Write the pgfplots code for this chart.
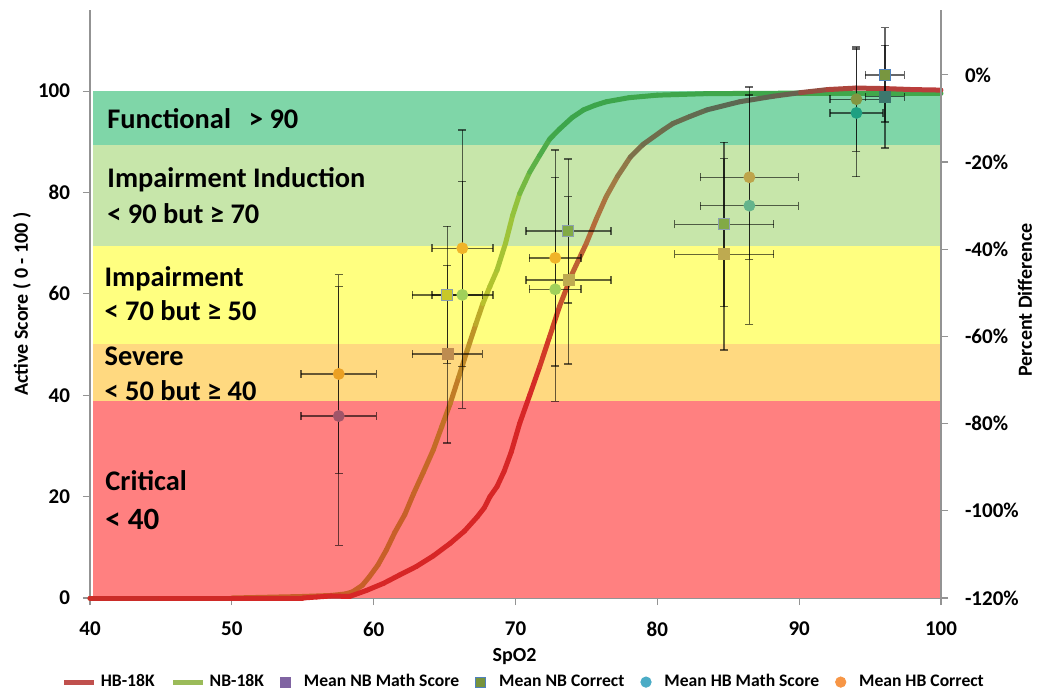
\documentclass[border=0pt]{standalone}
\usepackage{fontspec}
\setmainfont{Carlito}
\usepackage{pgfplots}
\pgfplotsset{compat=1.18}
\definecolor{bandG}{RGB}{127,214,168}
\definecolor{bandLG}{RGB}{199,230,170}
\definecolor{bandY}{RGB}{255,255,128}
\definecolor{bandO}{RGB}{255,217,128}
\definecolor{bandR}{RGB}{255,128,128}
\definecolor{hbline}{RGB}{192,80,77}
\definecolor{nbline}{RGB}{155,187,89}
\definecolor{purp}{RGB}{128,100,162}
\definecolor{nbgreen}{RGB}{119,147,60}
\definecolor{nbblue}{RGB}{79,129,189}
\definecolor{teal}{RGB}{75,172,198}
\definecolor{orng}{RGB}{247,150,70}
% per-point marker colours (as they appear over the bands)
\definecolor{hcA}{RGB}{235,160,35}
\definecolor{hcB}{RGB}{240,180,40}
\definecolor{hcC}{RGB}{190,165,75}
\definecolor{hcD}{RGB}{130,150,64}
\definecolor{hmA}{RGB}{160,85,105}
\definecolor{hmB}{RGB}{160,208,90}
\definecolor{hmC}{RGB}{100,180,140}
\definecolor{hmD}{RGB}{30,160,130}
\definecolor{ncA}{RGB}{200,200,40}
\definecolor{ncB}{RGB}{130,170,70}
\definecolor{ncC}{RGB}{120,150,64}
\definecolor{ncE}{RGB}{140,160,175}
\definecolor{nmA}{RGB}{190,140,80}
\definecolor{nmB}{RGB}{190,170,80}
\definecolor{nmC}{RGB}{60,120,110}
\pgfplotsset{
 colormap={hbmap}{rgb255(40)=(200,45,40) rgb255(57)=(215,38,38) rgb255(71)=(215,38,38) rgb255(73)=(205,75,40) rgb255(75)=(185,105,55) rgb255(77)=(160,125,70) rgb255(79)=(115,110,75) rgb255(85)=(90,105,82) rgb255(89)=(100,100,80) rgb255(92)=(170,70,60) rgb255(100)=(190,60,60)},
 colormap={nbmap}{rgb255(40)=(200,95,40) rgb255(62)=(200,95,40) rgb255(65)=(195,110,38) rgb255(67)=(190,150,40) rgb255(68)=(185,195,45) rgb255(70)=(150,195,60) rgb255(71)=(100,180,70) rgb255(73)=(60,165,75) rgb255(100)=(65,168,75)},
 marklegend/.style={legend image code/.code={\node[draw=none, fill=none, inner sep=0pt, minimum width=10pt, minimum height=1pt, anchor=west] at (0pt,0pt) {}; \draw[##1] plot coordinates {(3pt,0pt)};}},
 linelegend/.style={legend image code/.code={\draw[##1] (0pt,0pt) -- (15pt,0pt);}},
 ebars/.style={error bars/.cd, x dir=both, x explicit, y dir=both, y explicit,
   error bar style={black, opacity=0.6, line width=0.7pt},
   error mark options={rotate=90, black, opacity=0.6, mark size=2pt, line width=0.7pt}},
}
\tikzset{bandlbl/.style={anchor=base west, inner sep=0pt, font=\fontsize{14.2}{16}\selectfont\bfseries}}
\begin{document}
\begin{tikzpicture}
\useasboundingbox (0pt,0pt) rectangle (521pt,346pt);
\begin{axis}[
 at={(45pt,47pt)}, anchor=south west,
 scale only axis, width=425.5pt, height=294pt,
 xmin=40, xmax=100, ymin=0, ymax=116,
 clip=false,
 axis x line*=bottom, axis y line*=left,
 axis line style={draw=gray!85, line width=0.6pt},
 xtick={40,50,...,100}, xticklabels={40,50,60,70,80,90,100},
 ytick={0,20,...,100}, yticklabels={0,20,40,60,80,100},
 tick align=outside, major tick length=3.5pt,
 tick style={gray!85, line width=0.6pt},
 ticklabel style={font=\fontsize{10.5}{12}\selectfont\bfseries},
 xticklabel style={yshift=-5pt},
 yticklabel style={xshift=-3pt},
 xlabel={SpO2}, ylabel={Active Score ( 0 - 100 )},
 xlabel style={font=\fontsize{10}{12}\selectfont\bfseries, at={(axis description cs:0.499,-0.1)}, anchor=center},
 ylabel style={font=\fontsize{10}{12}\selectfont\bfseries, at={(axis description cs:-0.08,0.5)}, anchor=center, rotate=0},
 point meta min=40, point meta max=100,
 legend style={at={(axis description cs:0.511,-0.143)}, anchor=center, draw=none, fill=none,
   font=\fontsize{8.8}{10}\selectfont\bfseries, inner sep=0pt,
   /tikz/every even column/.append style={column sep=6pt}},
 legend columns=6,
 legend cell align=left,
]
% legend entries
\addlegendimage{linelegend, hbline, line width=2.5pt}
\addlegendentry{HB-18K}
\addlegendimage{linelegend, nbline, line width=2.5pt}
\addlegendentry{NB-18K}
\addlegendimage{marklegend, only marks, mark=square*, mark size=2.5pt, mark options={fill=purp, draw=purp}}
\addlegendentry{Mean NB Math Score}
\addlegendimage{marklegend, only marks, mark=square*, mark size=2.5pt, mark options={fill=nbgreen, draw=nbblue, line width=0.5pt}}
\addlegendentry{Mean NB Correct}
\addlegendimage{marklegend, only marks, mark=*, mark size=2.6pt, mark options={fill=teal, draw=teal}}
\addlegendentry{Mean HB Math Score}
\addlegendimage{marklegend, only marks, mark=*, mark size=2.6pt, mark options={fill=orng, draw=orng}}
\addlegendentry{Mean HB Correct}
% bands
\addplot[fill=bandR, draw=none, forget plot] coordinates {(40.2,0) (100,0) (100,38.9) (40.2,38.9)} -- cycle;
\addplot[fill=bandO, draw=none, forget plot] coordinates {(40.2,38.9) (100,38.9) (100,50.1) (40.2,50.1)} -- cycle;
\addplot[fill=bandY, draw=none, forget plot] coordinates {(40.2,50.1) (100,50.1) (100,69.4) (40.2,69.4)} -- cycle;
\addplot[fill=bandLG, draw=none, forget plot] coordinates {(40.2,69.4) (100,69.4) (100,89.3) (40.2,89.3)} -- cycle;
\addplot[fill=bandG, draw=none, forget plot] coordinates {(40.2,89.3) (100,89.3) (100,100) (40.2,100)} -- cycle;
% band labels
\node[bandlbl] at (axis cs:41.2,92.7) {Functional\hspace{9pt}> 90};
\node[bandlbl] at (axis cs:41.2,80.9) {Impairment Induction};
\node[bandlbl] at (axis cs:41.2,73.8) {< 90 but ≥ 70};
\node[bandlbl] at (axis cs:41.0,61.4) {Impairment};
\node[bandlbl] at (axis cs:41.0,54.7) {< 70 but ≥ 50};
\node[bandlbl] at (axis cs:41.0,45.8) {Severe};
\node[bandlbl] at (axis cs:41.0,39.05) {< 50 but ≥ 40};
\node[bandlbl] at (axis cs:41.06,21.3) {Critical};
\node[bandlbl, font=\fontsize{15.5}{17}\selectfont\bfseries] at (axis cs:41.06,13.6) {< 40};
% curves
\addplot[mesh, colormap name=nbmap, point meta=x, line width=2.5pt, line cap=round, line join=round, forget plot] table {
x y
40 0
45 0
50 0
55 0.3
57 0.5
58 0.8
58.5 1.2
59.2 2.5
59.7 4.2
60.3 6.5
60.9 9.5
61.5 13
62.2 16.5
62.8 20.5
63.5 24.8
64.2 29.2
64.8 33.8
65.4 38.4
66 43.6
66.6 48.9
67.2 54
67.7 58.1
68.2 61.5
68.7 64.7
69.3 70
69.8 75.5
70.3 79.8
71 84
71.7 87.3
72.4 90.5
73.1 92.5
74 94.8
74.8 96.3
75.6 97.2
76.4 97.9
78 98.7
80 99.2
83.5 99.5
90 99.6
95 99.6
100 99.6
};
\addplot[mesh, colormap name=hbmap, point meta=x, line width=2.5pt, line cap=round, line join=round, forget plot] table {
x y
40 0
45 0
50 0
55 0
56 0.2
57 0.4
58.3 0.3
59.5 1.5
60.7 2.9
61.8 4.5
63 6.2
64.2 8.3
65.4 10.8
66.4 13.2
67.3 16
67.8 17.8
68.2 20
68.7 22
69.2 25
69.7 28.8
70.3 34.5
71 40
71.7 45.6
72.4 51.5
73.1 57.5
74 64
75 70
75.7 74.8
76.4 79.2
77.2 83.2
78.1 87
79 89.5
80.4 92.3
81.1 93.6
82.3 95
83.5 96.3
85.8 97.9
88.2 99
90.1 99.7
92 100.3
94 100.6
96 100.5
98 100.3
100 100.2
};
% Mean NB Math Score
\addplot[scatter, only marks, scatter src=explicit symbolic, forget plot, mark size=2.75pt,
 scatter/classes={a={mark=square*, fill=nmA, draw=nmA}, b={mark=square*, fill=nmB, draw=nmB}, c={mark=square*, fill=nmC, draw=nmC}},
 ebars] table[x=x, y=y, x error=ex, y error=ey, meta=c] {
x y ex ey c
65.20 48.1 2.47 17.5 a
73.73 62.7 3.00 16.5 b
84.71 67.8 3.49 18.9 b
96.04 98.9 1.37 10.1 c
};
% Mean NB Correct
\addplot[scatter, only marks, scatter src=explicit symbolic, forget plot, mark size=2.75pt,
 scatter/classes={a={mark=square*, fill=ncA, draw=ncE, line width=0.5pt}, b={mark=square*, fill=ncB, draw=ncE, line width=0.5pt}, c={mark=square*, fill=ncC, draw=nbblue, line width=0.5pt}},
 ebars] table[x=x, y=y, x error=ex, y error=ey, meta=c] {
x y ex ey c
65.20 59.8 2.47 13.5 a
73.73 72.4 3.00 14.2 b
84.71 73.7 3.49 16.2 b
96.04 103.2 1.37 9.3 c
};
% Mean HB Math Score
\addplot[scatter, only marks, scatter src=explicit symbolic, forget plot, mark size=2.75pt,
 scatter/classes={a={mark=*, fill=hmA, draw=hmA}, b={mark=*, fill=hmB, draw=hmB}, c={mark=*, fill=hmC, draw=hmC}, d={mark=*, fill=hmD, draw=hmD}},
 ebars] table[x=x, y=y, x error=ex, y error=ey, meta=c] {
x y ex ey c
57.54 35.9 2.65 25.5 a
66.25 59.8 2.15 22.4 b
72.80 60.9 1.83 22.1 b
86.49 77.4 3.46 23.4 c
94.04 95.7 1.88 12.6 d
};
% Mean HB Correct
\addplot[scatter, only marks, scatter src=explicit symbolic, forget plot, mark size=2.75pt,
 scatter/classes={a={mark=*, fill=hcA, draw=hcA}, b={mark=*, fill=hcB, draw=hcB}, c={mark=*, fill=hcC, draw=hcC}, d={mark=*, fill=hcD, draw=hcD}},
 ebars] table[x=x, y=y, x error=ex, y error=ey, meta=c] {
x y ex ey c
57.54 44.2 2.65 19.6 a
66.25 69.0 2.15 23.3 b
72.80 67.1 1.83 21.3 b
86.49 83.0 3.46 16.2 c
94.04 98.4 1.88 10.3 d
};
\end{axis}
\begin{axis}[
 at={(45pt,47pt)}, anchor=south west,
 scale only axis, width=425.5pt, height=294pt,
 xmin=40, xmax=100, ymin=-120, ymax=14.88,
 axis x line=none, axis y line*=right,
 axis line style={draw=gray!85, line width=0.6pt},
 ytick={-120,-100,...,0},
 yticklabels={-120\%,-100\%,-80\%,-60\%,-40\%,-20\%,0\%},
 tick align=outside, major tick length=3.5pt,
 tick style={gray!85, line width=0.6pt},
 ticklabel style={font=\fontsize{10.5}{12}\selectfont\bfseries},
 yticklabel style={xshift=5pt},
 ylabel={Percent Difference},
 ylabel style={font=\fontsize{10}{12}\selectfont\bfseries, at={(axis description cs:1.0987,0.507)}, anchor=center, rotate=0},
]
\addplot[draw=none, forget plot] coordinates {(40,0) (100,0)};
\end{axis}
\end{tikzpicture}
\end{document}
